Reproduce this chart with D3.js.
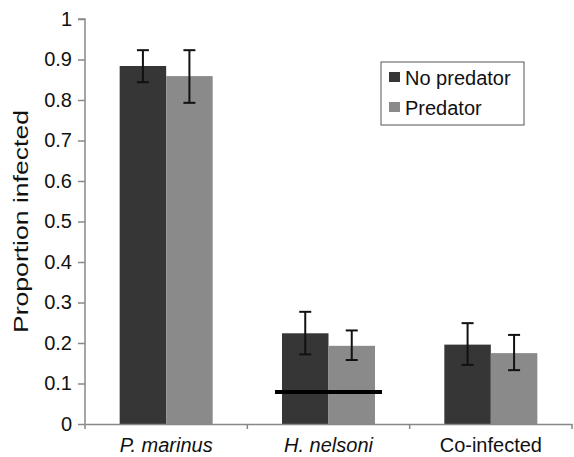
<!DOCTYPE html>
<html><head><meta charset="utf-8">
<script src="https://cdn.jsdelivr.net/npm/d3@7"></script>
<style>body{margin:0;background:#fff}svg{display:block}text{font-family:"Liberation Sans",Arial,Helvetica,sans-serif}</style>
</head><body>
<script>
const categories = ["P. marinus", "H. nelsoni", "Co-infected"];
const italicCats = [true, true, false];
const seriesNames = ["No predator", "Predator"];
const seriesColors = ["#363636", "#8a8a8a"];
const noPredator = [0.884, 0.224, 0.196];
const noPredatorLo = [0.844, 0.172, 0.146];
const noPredatorHi = [0.923, 0.277, 0.249];
const predator = [0.859, 0.193, 0.175];
const predatorLo = [0.793, 0.158, 0.133];
const predatorHi = [0.923, 0.231, 0.220];
const yTicks = [0, 0.1, 0.2, 0.3, 0.4, 0.5, 0.6, 0.7, 0.8, 0.9, 1];
const refLineValue = 0.079;
const refLineCategory = "H. nelsoni";

const W = 574, H = 457;
const svg = d3.select("body").append("svg").attr("width", W).attr("height", H);

const x0 = d3.scaleBand().domain(categories).range([85, 572]).paddingInner(0).paddingOuter(0);
const x1 = d3.scaleBand().domain(seriesNames).range([0, 93]);
const y = d3.scaleLinear().domain([0, 1]).range([424, 19]);

const series = [
  {name: seriesNames[0], vals: noPredator, lo: noPredatorLo, hi: noPredatorHi},
  {name: seriesNames[1], vals: predator, lo: predatorLo, hi: predatorHi}
];
const groupOffset = (x0.bandwidth() - 93) / 2;

// bars
series.forEach((s, si) => {
  svg.append("g").selectAll("rect").data(categories).join("rect")
    .attr("x", c => x0(c) + groupOffset + x1(s.name))
    .attr("y", (c, i) => y(s.vals[i]))
    .attr("width", x1.bandwidth())
    .attr("height", (c, i) => y(0) - y(s.vals[i]))
    .attr("fill", seriesColors[si]);
});

// error bars
series.forEach((s, si) => {
  const g = svg.append("g").attr("stroke", "#111").attr("stroke-width", 2).attr("fill", "none");
  categories.forEach((c, i) => {
    const cx = x0(c) + groupOffset + x1(s.name) + x1.bandwidth() / 2;
    g.append("line").attr("x1", cx).attr("x2", cx).attr("y1", y(s.lo[i])).attr("y2", y(s.hi[i]));
    g.append("line").attr("x1", cx - 6).attr("x2", cx + 6).attr("y1", y(s.lo[i])).attr("y2", y(s.lo[i]));
    g.append("line").attr("x1", cx - 6).attr("x2", cx + 6).attr("y1", y(s.hi[i])).attr("y2", y(s.hi[i]));
  });
});

// reference line
svg.append("line")
  .attr("x1", x0(refLineCategory) + groupOffset - 7)
  .attr("x2", x0(refLineCategory) + groupOffset + 93 + 7)
  .attr("y1", y(refLineValue)).attr("y2", y(refLineValue))
  .attr("stroke", "#000").attr("stroke-width", 4);

// y axis
const yAxis = d3.axisLeft(y).tickValues(yTicks).tickFormat(d => d === 0 || d === 1 ? d3.format("d")(d) : d3.format(".1f")(d)).tickSize(7).tickPadding(6);
const gy = svg.append("g").attr("transform", "translate(85,0)").call(yAxis);
gy.select(".domain").attr("stroke", "#888").attr("stroke-width", 1.5).attr("d", `M-7,${y(1)}H0V${y(0)}`);
gy.selectAll(".tick line").attr("stroke", "#888").attr("stroke-width", 1.5);
gy.selectAll(".tick text").attr("font-size", 20).attr("fill", "#111").attr("font-family", "Liberation Sans, Arial, sans-serif");

// x axis
const xAxis = d3.axisBottom(x0).tickSize(0).tickPadding(14);
const gx = svg.append("g").attr("transform", `translate(0,${y(0)})`).call(xAxis);
gx.select(".domain").attr("stroke", "#888").attr("stroke-width", 1.5);
gx.selectAll(".tick text").attr("font-size", 20).attr("fill", "#111")
  .attr("font-family", "Liberation Sans, Arial, sans-serif")
  .attr("font-style", (d, i) => italicCats[i] ? "italic" : "normal");
// category boundary ticks
const bounds = categories.map(c => x0(c)).concat([x0.range()[1]]);
svg.append("g").selectAll("line").data(bounds).join("line")
  .attr("x1", d => d).attr("x2", d => d).attr("y1", y(0)).attr("y2", y(0) + 5)
  .attr("stroke", "#888").attr("stroke-width", 1.5);

// y label
svg.append("text").attr("transform", `translate(28,221.5) rotate(-90)`)
  .attr("text-anchor", "middle").attr("font-size", 21).attr("fill", "#111")
  .attr("textLength", 223).attr("lengthAdjust", "spacingAndGlyphs")
  .text("Proportion infected");

// legend
const lg = svg.append("g").attr("transform", "translate(381,62)");
lg.append("rect").attr("width", 143).attr("height", 63).attr("fill", "#fff").attr("stroke", "#555").attr("stroke-width", 1);
seriesNames.forEach((n, i) => {
  lg.append("rect").attr("x", 8).attr("y", 10 + i * 30).attr("width", 11).attr("height", 10).attr("fill", seriesColors[i]);
  lg.append("text").attr("x", 24).attr("y", 23 + i * 30).attr("font-size", 20).attr("fill", "#111").text(n);
});
</script>
</body></html>
